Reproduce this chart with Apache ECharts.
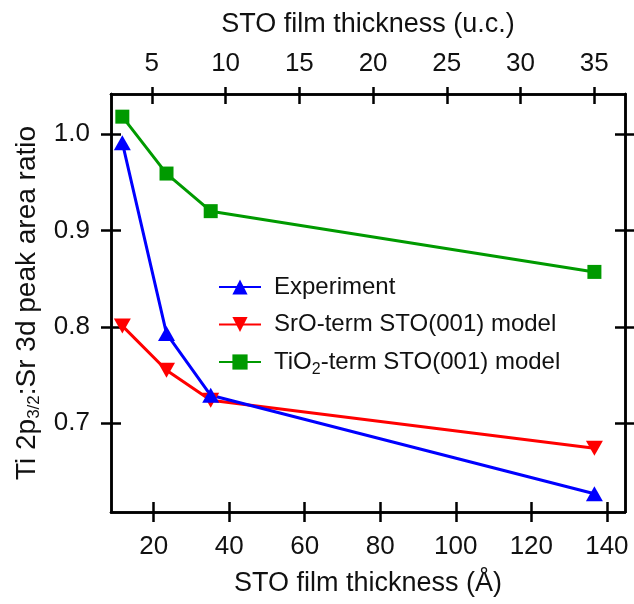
<!DOCTYPE html>
<html>
<head>
<meta charset="utf-8">
<script src="https://cdn.jsdelivr.net/npm/echarts@6/dist/echarts.min.js"></script>
<style>
  html, body { margin: 0; padding: 0; background: #fff; }
  #chart { width: 634px; height: 604px; }
</style>
</head>
<body>
<div id="chart"></div>
<script>
// film thickness of the four samples (Å) and the measured / modelled ratios
var thickness = [11.7, 23.4, 35.1, 136.7];
var experiment = [0.991, 0.793, 0.729, 0.627];
var srOModel = [0.801, 0.755, 0.724, 0.674];
var tiO2Model = [1.018, 0.959, 0.920, 0.857];

// tick labels
var bottomTicks = [20, 40, 60, 80, 100, 120, 140];
var topTicks = [5, 10, 15, 20, 25, 30, 35];
var yTicks = [0.7, 0.8, 0.9, 1.0];

var FONT = 'Liberation Sans';
var TXT = '#111';

function pairs(ys) {
    var out = [];
    for (var i = 0; i < thickness.length; i++) {
        out.push([thickness[i], ys[i]]);
    }
    return out;
}

// one axis carries the outer half of the tick, a twin carries the inner half
function xAx(pos, min, max, ticks, inside, extra) {
    var a = {
        type: 'value', position: pos, min: min, max: max,
        axisLine: { show: true, onZero: false, lineStyle: { color: '#000', width: 2.5 } },
        axisTick: { show: true, inside: inside, length: inside ? 10 : (pos == 'top' ? 7 : 10),
            customValues: ticks, lineStyle: { color: '#000', width: 2.5 } },
        axisLabel: { show: false },
        splitLine: { show: false }
    };
    for (var k in extra) a[k] = extra[k];
    return a;
}
function yAx(pos, inside, extra) {
    var a = {
        type: 'value', position: pos, min: 0.608, max: 1.0415,
        axisLine: { show: true, onZero: false, lineStyle: { color: '#000', width: 2.5 } },
        axisTick: { show: true, inside: inside, length: 10,
            customValues: yTicks, lineStyle: { color: '#000', width: 2.5 } },
        axisLabel: { show: false },
        splitLine: { show: false }
    };
    for (var k in extra) a[k] = extra[k];
    return a;
}

var chart = echarts.init(document.getElementById('chart'));
var option = {
    backgroundColor: '#fff',
    animation: false,
    grid: { left: 111, right: 9, top: 94, bottom: 92, containLabel: false, outerBoundsMode: 'none' },
    legend: {
        orient: 'vertical', left: 213, top: 270,
        itemWidth: 42, itemHeight: 19, itemGap: 13.5,
        data: ['Experiment', 'SrO-term STO(001) model', 'TiO2-term STO(001) model'],
        formatter: function (name) {
            if (name.indexOf('TiO2') == 0) {
                return '{a|TiO}{s|2}{a|-term STO(001) model}';
            }
            return '{a|' + name + '}';
        },
        textStyle: {
            padding: [0, 0, 0, 8],
            rich: {
                a: { fontFamily: FONT, fontSize: 24, lineHeight: 24, color: TXT },
                s: { fontFamily: FONT, fontSize: 16, lineHeight: 12, padding: [12, 0, 0, 0],
                    verticalAlign: 'top', color: TXT }
            }
        }
    },
    xAxis: [
        xAx('bottom', 8.7, 144.8, bottomTicks, false, {
            name: 'STO film thickness (Å)', nameLocation: 'middle', nameGap: 58,
            nameTextStyle: { fontFamily: FONT, fontSize: 27, color: TXT },
            axisLabel: { show: true, customValues: bottomTicks, margin: 22,
                fontFamily: FONT, fontSize: 26, color: TXT }
        }),
        xAx('bottom', 8.7, 144.8, bottomTicks, true, {}),
        xAx('top', 2.23, 37.08, topTicks, false, {
            name: 'STO film thickness (u.c.)', nameLocation: 'middle', nameGap: 56,
            nameTextStyle: { fontFamily: FONT, fontSize: 27, color: TXT },
            axisLabel: { show: true, customValues: topTicks, margin: 17,
                fontFamily: FONT, fontSize: 26, color: TXT }
        }),
        xAx('top', 2.23, 37.08, topTicks, true, {})
    ],
    yAxis: [
        yAx('left', false, {
            name: '{a|Ti 2p}{s|3/2}{a|:Sr 3d peak area ratio}',
            nameLocation: 'middle', nameGap: 64,
            nameTextStyle: {
                rich: {
                    a: { fontFamily: FONT, fontSize: 28, lineHeight: 30, color: TXT },
                    s: { fontFamily: FONT, fontSize: 17, lineHeight: 16, padding: [14, 0, 0, 0],
                        verticalAlign: 'top', color: TXT }
                }
            },
            axisLabel: { show: true, customValues: yTicks, margin: 21,
                fontFamily: FONT, fontSize: 26, color: TXT,
                formatter: function (v) { return v.toFixed(1); } }
        }),
        yAx('left', true, {}),
        yAx('right', false, {}),
        yAx('right', true, {})
    ],
    series: [
        {
            name: 'SrO-term STO(001) model', type: 'line',
            data: pairs(srOModel),
            symbol: 'triangle', symbolRotate: 180, symbolSize: [17, 15],
            itemStyle: { color: '#ff0000' },
            lineStyle: { color: '#ff0000', width: 3 }
        },
        {
            name: 'TiO2-term STO(001) model', type: 'line',
            data: pairs(tiO2Model),
            symbol: 'rect', symbolSize: 14,
            itemStyle: { color: '#009a00' },
            lineStyle: { color: '#009a00', width: 3 }
        },
        {
            name: 'Experiment', type: 'line',
            data: pairs(experiment),
            symbol: 'triangle', symbolSize: [17, 15],
            itemStyle: { color: '#0000ff' },
            lineStyle: { color: '#0000ff', width: 3 }
        }
    ]
};
chart.setOption(option);
</script>
</body>
</html>
